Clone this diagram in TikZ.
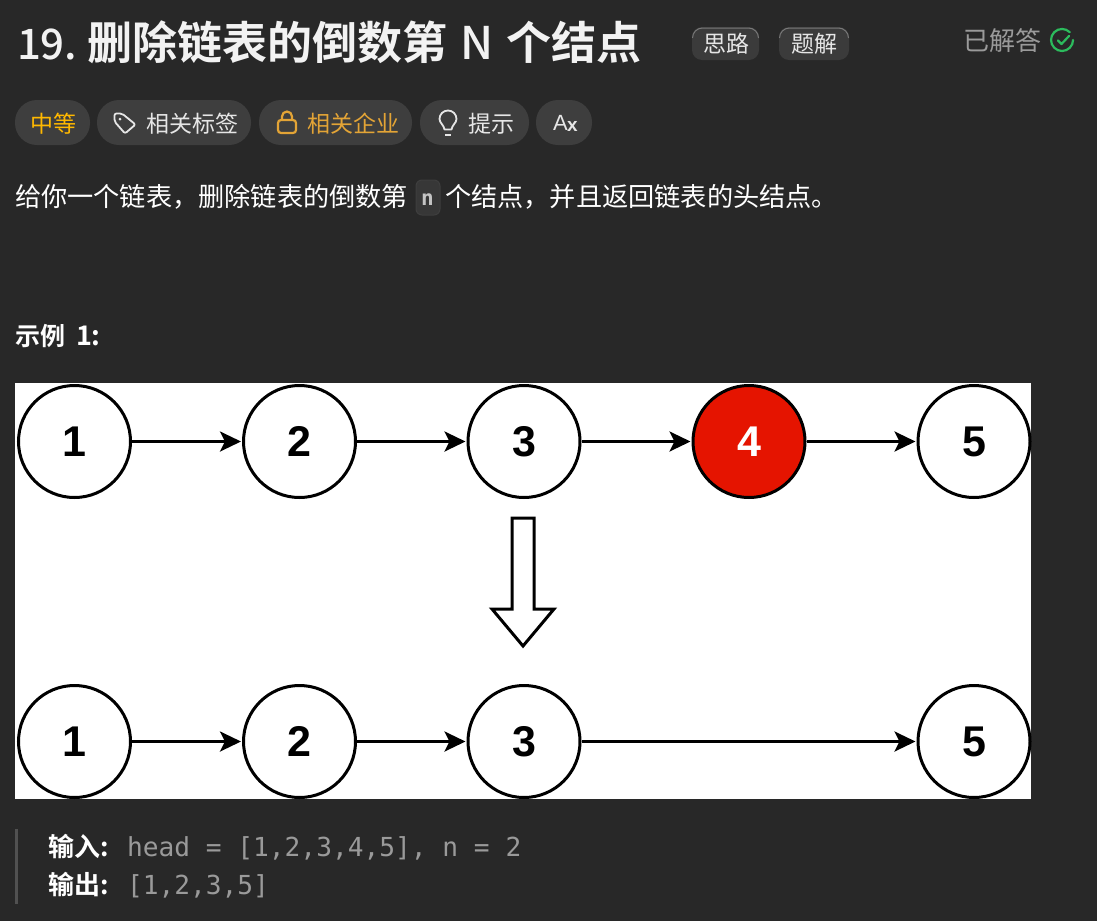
\documentclass[tikz,border=0pt]{standalone}
\usepackage{fontspec}
\setmainfont{Noto Sans CJK SC}[BoldFont={Noto Sans CJK SC Bold}]
\newfontfamily\medfont{Noto Sans CJK SC Medium}
\newfontfamily\monofont{DejaVu Sans Mono}
\newfontfamily\numfont{Liberation Sans}
\usepackage{tikz}
\usetikzlibrary{arrows.meta}
\definecolor{pagebg}{HTML}{282828}
\definecolor{pillbg}{HTML}{3E3E3E}
\definecolor{softtext}{HTML}{E6E6E6}
\definecolor{greytext}{HTML}{9A9A9A}
\definecolor{lockgold}{HTML}{E3A436}
\definecolor{easyyellow}{HTML}{FFB800}
\definecolor{solvedgreen}{HTML}{2CBB5D}
\definecolor{nodered}{HTML}{E51400}
\def\FS#1{\fontsize{#1}{#1}\selectfont}
\def\PILL#1#2{\fill [pillbg,rounded corners=22pt] (#1,100) rectangle (#2,145);}
\def\TAB#1#2{\fill [tabbtn] (#1,27) rectangle (#2,60);
  \draw [pillbg!70!white,line width=1pt] (#1+0.5,38) arc (180:270:10) -- (#2-10.5,28) arc (270:360:10);}
\tikzset{
  listnode/.style={circle,draw=black,line width=3pt,fill=white,minimum size=112pt,inner sep=0pt,font=\numfont\bfseries\FS{43}},
  link/.style={line width=3pt,-{Stealth[length=21pt,width=20pt,inset=5pt]},shorten >=1pt},
  lab/.style={anchor=base west,inner sep=0pt,outer sep=0pt,text=white},
  tabbtn/.style={fill=pillbg!85!pagebg,rounded corners=10pt},
}
\begin{document}
\begin{tikzpicture}[x=1pt,y=-1pt]
  \fill [pagebg] (0,0) rectangle (1097,921);
  \useasboundingbox (0,0) rectangle (1097,921);
  % title row
  \node [lab,text=white!95!black,font=\medfont\FS{42}] (num) at (17,59) {19.};
  \node [lab,text=white!95!black,font=\bfseries\FS{45}] (title) at (87,59) {删除链表的倒数第};
  \node [lab,text=white!95!black,font=\medfont\FS{45}] (big) at (460,59) {N};
  \node [lab,text=white!95!black,font=\bfseries\FS{45}] (tail) at (506,59) {个结点};
  \TAB{692}{759} \TAB{779}{849}
  \node [lab,text=softtext,font=\FS{23}] (idea) at (703,52) {思路};
  \node [lab,text=softtext,font=\FS{23}] (answer) at (791,52) {题解};
  \node [lab,text=greytext,font=\FS{26}] (solved) at (963,50) {已解答};
  \draw [solvedgreen,line width=2.2pt,line cap=round] (1069.8,32.2) arc (-45:-360:11);
  \draw [solvedgreen,line width=2.2pt,line cap=round,line join=round] (1058,40.5) -- (1061.5,44) -- (1069,36);
  % pills
  \PILL{15}{90} \PILL{97}{251} \PILL{259}{412} \PILL{420}{529} \PILL{536}{592}
  \node [lab,text=easyyellow,font=\FS{23}] (level) at (30,132) {中等};
  \draw [softtext,line width=1.8pt,line join=round,rounded corners=2pt] (114.5,113.5) -- (122,113.5) -- (135.5,124.5) -- (125,133.5) -- (114.5,121.5) -- cycle;
  \fill [softtext] (120,119) circle (1.5);
  \node [lab,text=softtext,font=\FS{23}] (tags) at (146,132) {相关标签};
  \draw [lockgold,line width=2.2pt,rounded corners=3pt] (278,120) rectangle (296,133);
  \draw [lockgold,line width=2.2pt] (282,120) -- (282,116.5) arc (180:360:5) -- (292,120);
  \node [lab,text=lockgold,font=\FS{23}] (firms) at (307,132) {相关企业};
  \draw [softtext,line width=1.8pt,line join=round] (444.5,129.5) .. controls (444,125) and (439.5,123) .. (439.5,119) arc (180:360:8.5) .. controls (456.5,123) and (452,125) .. (451.5,129.5) -- cycle;
  \draw [softtext,line width=2pt] (445,134.5) -- (451,134.5);
  \node [lab,text=softtext,font=\FS{23}] (hint) at (468,132) {提示};
  \node [lab,text=softtext,font=\numfont\FS{22}] (fonta) at (553,130) {A};
  \node [lab,text=softtext,font=\numfont\bfseries\FS{19}] (fontx) at (567,131) {x};
  % statement
  \node [lab,font=\FS{26.2}] (desc) at (15,206) {给你一个链表，删除链表的倒数第};
  \draw [pillbg,fill=pillbg!70!pagebg,rounded corners=6pt,line width=1pt] (416,180) rectangle (440,215);
  \node [lab,text=softtext!85!black,font=\monofont\bfseries\FS{21}] (chip) at (421,205) {n};
  \node [lab,font=\FS{26.2}] (rest) at (445,206) {个结点，并且返回链表的头结点。};
  \node [lab,font=\bfseries\FS{25}] (case) at (15,345) {示例};
  \node [lab,font=\bfseries\FS{27}] (casenum) at (76,345) {1:};
  % figure
  \fill [white] (15,383) rectangle (1031,799);
  \foreach \n/\x in {1/74.5,2/299.5,3/524,5/974} \node [listnode] (a\n) at (\x,441.5) {\n};
  \node [listnode,fill=nodered,text=white] (a4) at (749,441.5) {4};
  \foreach \n/\x in {1/74.5,2/299.5,3/524,5/974} \node [listnode] (b\n) at (\x,741.5) {\n};
  \foreach \p/\q in {1/2,2/3,3/4,4/5} \draw [link] (a\p) -- (a\q);
  \foreach \p/\q in {1/2,2/3,3/5} \draw [link] (b\p) -- (b\q);
  \draw [line width=3pt,line join=miter,fill=white] (512,518) -- (534,518) -- (534,609) -- (554,609) -- (523,646) -- (492,609) -- (512,609) -- cycle;
  % example text
  \fill [pillbg!90!white] (15,829) rectangle (18,904);
  \node [lab,font=\bfseries\FS{26}] (inp) at (48,856) {输入:};
  \node [lab,text=greytext,font=\monofont\FS{26.2}] (inpval) at (127,856) {head = [1,2,3,4,5], n = 2};
  \node [lab,font=\bfseries\FS{26}] (outp) at (48,894) {输出:};
  \node [lab,text=greytext,font=\monofont\FS{26.2}] (outval) at (127,894) {[1,2,3,5]};
\end{tikzpicture}
\end{document}
